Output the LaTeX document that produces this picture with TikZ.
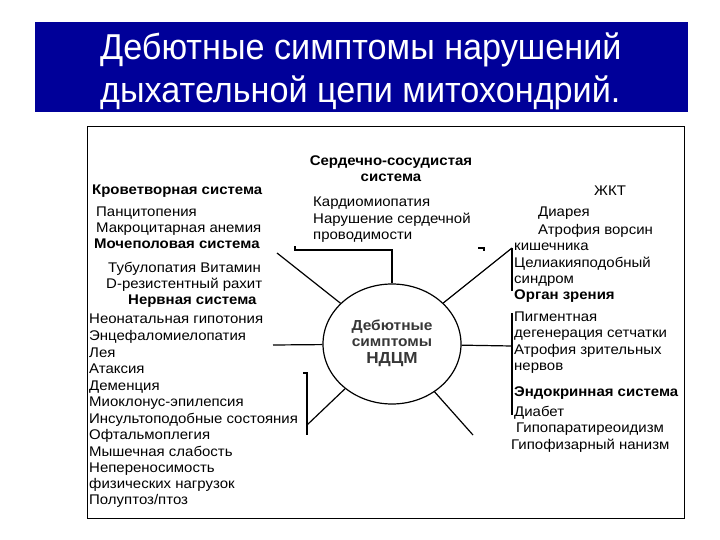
\documentclass[tikz,border=0pt]{standalone}
\usepackage{fontspec}
\setmainfont[FakeStretch=1.07]{Liberation Sans}
\newfontfamily\titlefont[FakeStretch=0.95]{Liberation Sans}
\usetikzlibrary{positioning, shapes.geometric}
\definecolor{banner}{RGB}{0,0,153}
\definecolor{hubtext}{RGB}{55,55,55}

\begin{document}
\begin{tikzpicture}[
    x=1pt, y=-1pt,
    title/.style={anchor=base west, inner sep=0pt, text=white, font=\titlefont\fontsize{36}{40}\selectfont},
    item/.style={anchor=base west, inner sep=0pt, font=\fontsize{14}{16}\selectfont},
    head/.style={item, font=\fontsize{14}{16}\selectfont\bfseries},
    hubtxt/.style={inner sep=0pt, text=hubtext, font=\fontsize{14.5}{16}\selectfont\bfseries},
    hub/.style={ellipse, draw, line width=1.2pt, minimum width=138pt, minimum height=120pt, inner sep=0pt},
    spoke/.style={line width=1.2pt}
]
\useasboundingbox (0,0) rectangle (720,540);

% ================= TITLE =================
\fill[banner] (35,22) rectangle (688,112);
\node[title] (t1) at (100,60) {Дебютные симптомы нарушений};
\node[title] (t2) at (100,103) {дыхательной цепи митохондрий.};

\draw[line width=0.8pt] (87,126) rectangle (684,518);

% ================= HUB =================
\node[hub] (hub) at (392,344) {};
\node[hubtxt] (h1) at (392,327) {Дебютные};
\node[hubtxt] (h2) at (392,343) {симптомы};
\node[hubtxt, font=\fontsize{16}{18}\selectfont\bfseries] (h3) at (392,360) {НДЦМ};

% ================= LEFT COLUMN =================
\node[head] (krov) at (92,195) {Кроветворная система};
\node[item] (panc) at (96,216) {Панцитопения};
\node[item] (makr) at (96,233) {Макроцитарная анемия};
\node[head] (moch) at (94,248) {Мочеполовая система};
\node[item] (tub)  at (108,272) {Тубулопатия Витамин};
\node[item] (rah)  at (106,288) {D-резистентный рахит};
\node[head] (nerv) at (128,304) {Нервная система};
\node[item] (neo)  at (89,323) {Неонатальная гипотония};
\node[item] (enc)  at (89,340) {Энцефаломиелопатия};
\node[item] (leya) at (89,357) {Лея};
\node[item] (atak) at (89,373) {Атаксия};
\node[item] (dem)  at (89,390) {Деменция};
\node[item] (mio)  at (89,406) {Миоклонус-эпилепсия};
\node[item] (ins)  at (89,423) {Инсультоподобные состояния};
\node[item] (oft)  at (89,439) {Офтальмоплегия};
\node[item] (mysh) at (89,456) {Мышечная слабость};
\node[item] (nep)  at (89,472) {Непереносимость};
\node[item] (fiz)  at (89,488) {физических нагрузок};
\node[item] (pol)  at (89,504) {Полуптоз/птоз};

% ================= TOP =================
\node[head, anchor=base] (ss1) at (391,166) {Сердечно-сосудистая};
\node[head, anchor=base] (ss2) at (391,182) {система};
\node[item] (kard) at (313,207) {Кардиомиопатия};
\node[item] (nar)  at (313,224) {Нарушение сердечной};
\node[item] (prov) at (313,240) {проводимости};

% ================= RIGHT COLUMN =================
\node[item] (zhkt) at (594,196) {ЖКТ};
\node[item] (diar) at (538,217) {Диарея};
\node[item] (atr)  at (538,234) {Атрофия ворсин};
\node[item] (kish) at (514,250) {кишечника};
\node[item] (cel)  at (514,267) {Целиакияподобный};
\node[item] (sind) at (514,283) {синдром};
\node[head] (org)  at (514,299) {Орган зрения};
\node[item] (pigm) at (514,321) {Пигментная};
\node[item] (deg)  at (514,337) {дегенерация сетчатки};
\node[item] (atz)  at (514,354) {Атрофия зрительных};
\node[item] (nrv)  at (514,370) {нервов};
\node[head] (endo) at (514,396) {Эндокринная система};
\node[item] (diab) at (514,416) {Диабет};
\node[item] (gpt)  at (516,432) {Гипопаратиреоидизм};
\node[item] (gfz)  at (511,449) {Гипофизарный нанизм};

% ================= SPOKES =================
\coordinate (topL) at (295,246);
\coordinate (topC) at (392,250);
\coordinate (tl) at (277,253);
\coordinate (lft) at (273,345);
\coordinate (blT) at (303,373);
\coordinate (blB) at (307,435);
\coordinate (bl) at (307,425);
\coordinate (br) at (473,435);
\coordinate (trT) at (512,248);
\coordinate (trB) at (512,291);
\coordinate (rT) at (512,313);
\coordinate (rB) at (512,415);
\coordinate (rgt) at (512,346);
\coordinate (tick) at (478,248);

\draw[spoke] (topL) -- (topL |- topC) -- (topC) -- (hub);
\draw[spoke] (tl) -- (hub);
\draw[spoke] (lft) -- (hub);
\draw[spoke] (blT) -- (blT -| blB) -- (blB);
\draw[spoke] (bl) -- (hub);
\draw[spoke] (br) -- (hub);
\draw[spoke] (trT) -- (trB);
\draw[spoke] (trT) -- (hub);
\draw[spoke] (rT) -- (rB);
\draw[spoke] (rgt) -- (hub);
\draw[spoke] (tick) -- ++(6,0) -- ++(0,3);

\end{tikzpicture}
\end{document}
